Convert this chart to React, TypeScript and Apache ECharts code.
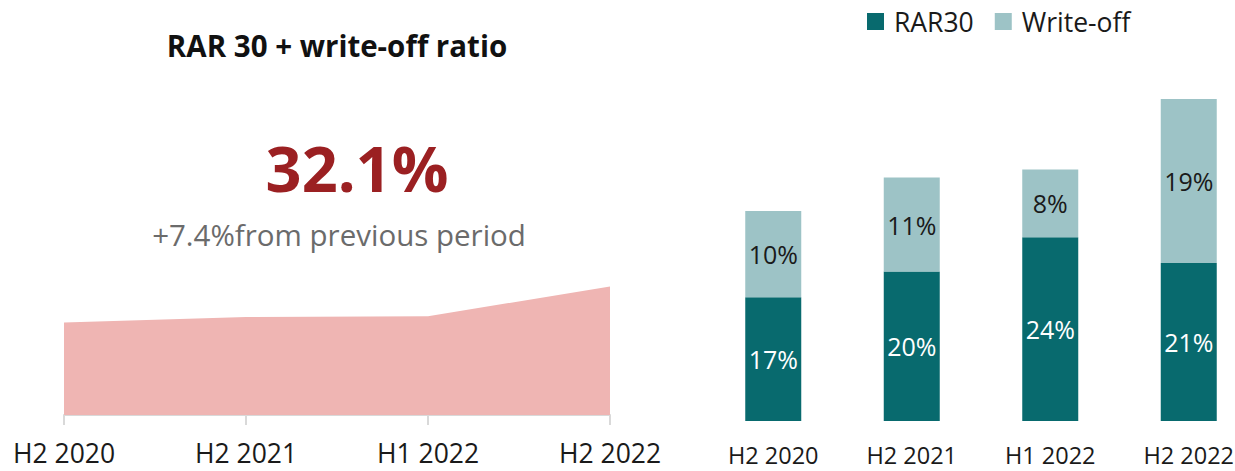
import React, { useEffect, useRef } from "react";
import * as echarts from "echarts";

const periods = ["H2 2020", "H2 2021", "H1 2022", "H2 2022"];
const totalRatio = [23.1, 24.5, 24.7, 32.1];
const rar30 = [17.0, 20.0, 24.0, 21.0];
const writeOff = [10.1, 11.0, 7.95, 19.2];
const rar30Labels = ["17%", "20%", "24%", "21%"];
const writeOffLabels = ["10%", "11%", "8%", "19%"];
const titleText = "RAR 30 + write-off ratio";
const headlineText = "32.1%";
const changeText = "+7.4%from previous period";

const FONT = "'Open Sans', 'Noto Sans', sans-serif";

export default function App() {
  const ref = useRef<HTMLDivElement>(null);
  useEffect(() => {
    document.body.style.margin = "0";
    const chart = echarts.init(ref.current!, null, { renderer: "svg" });
    chart.setOption({
      animation: false,
      textStyle: { fontFamily: FONT },
      legend: {
        data: ["RAR30", "Write-off"],
        top: 3,
        left: 862,
        itemWidth: 17,
        itemHeight: 17,
        itemGap: 21,
        icon: "rect",
        textStyle: { fontSize: 26.5, color: "#1a1a1a", fontFamily: FONT, padding: [0, 0, 0, 5] },
      },
      graphic: [
        {
          type: "text",
          x: 337,
          y: 45,
          style: {
            text: titleText,
            font: `bold 29.5px ${FONT}`,
            fill: "#111",
            textAlign: "center",
            textVerticalAlign: "middle",
          },
        },
        {
          type: "text",
          x: 357,
          y: 167,
          style: {
            text: headlineText,
            font: `bold 63px ${FONT}`,
            fill: "#9b2022",
            textAlign: "center",
            textVerticalAlign: "middle",
          },
        },
        {
          type: "text",
          x: 339,
          y: 234,
          style: {
            text: changeText,
            font: `29.5px ${FONT}`,
            fill: "#6b6b6b",
            textAlign: "center",
            textVerticalAlign: "middle",
          },
        },
      ],
      grid: [
        { left: 64, top: 255, width: 546, height: 160 },
        { left: 704, top: 58, width: 554, height: 363 },
      ],
      xAxis: [
        {
          type: "category",
          gridIndex: 0,
          data: periods,
          boundaryGap: false,
          axisLine: { lineStyle: { color: "#d9d9d9", width: 2 } },
          axisTick: { length: 10, lineStyle: { color: "#d9d9d9", width: 2 } },
          axisLabel: { fontSize: 26.5, color: "#1a1a1a", margin: 24, fontFamily: FONT },
        },
        {
          type: "category",
          gridIndex: 1,
          data: periods,
          axisLine: { show: false },
          axisTick: { show: false },
          axisLabel: { fontSize: 23.5, color: "#1a1a1a", margin: 22, fontFamily: FONT },
        },
      ],
      yAxis: [
        { type: "value", gridIndex: 0, min: 0, max: 40, show: false },
        { type: "value", gridIndex: 1, min: 2.5, max: 45, show: false },
      ],
      series: [
        {
          type: "line",
          xAxisIndex: 0,
          yAxisIndex: 0,
          data: totalRatio,
          symbol: "none",
          lineStyle: { width: 0 },
          areaStyle: { color: "#efb5b3", opacity: 1 },
        },
        {
          name: "RAR30",
          type: "bar",
          xAxisIndex: 1,
          yAxisIndex: 1,
          stack: "t",
          barWidth: 56,
          data: rar30,
          itemStyle: { color: "#086a6e" },
          label: {
            show: true,
            position: "inside",
            color: "#ffffff",
            fontSize: 25,
            fontFamily: FONT,
            formatter: (p: any) => rar30Labels[p.dataIndex],
          },
        },
        {
          name: "Write-off",
          type: "bar",
          xAxisIndex: 1,
          yAxisIndex: 1,
          stack: "t",
          barWidth: 56,
          data: writeOff,
          itemStyle: { color: "#9dc3c6" },
          label: {
            show: true,
            position: "inside",
            color: "#1a1a1a",
            fontSize: 25,
            fontFamily: FONT,
            formatter: (p: any) => writeOffLabels[p.dataIndex],
          },
        },
      ],
    });
    return () => chart.dispose();
  }, []);
  return (
    <div style={{ width: 1235, height: 471, overflow: "hidden" }}>
      <div ref={ref} style={{ width: 1300, height: 471 }} />
    </div>
  );
}
